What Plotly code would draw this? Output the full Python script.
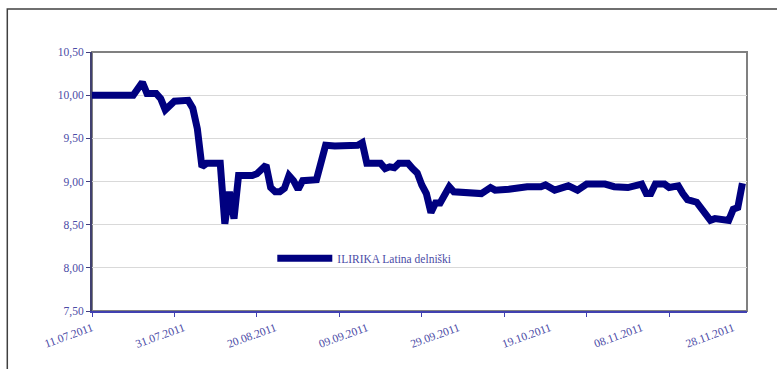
import plotly.graph_objects as go

# Daily closing values of the fund share, 11.07.2011 - 30.11.2011
dates = [
    "2011-07-11", "2011-07-20", "2011-07-22", "2011-07-23", "2011-07-25",
    "2011-07-26", "2011-07-27", "2011-07-29", "2011-08-01", "2011-08-02",
    "2011-08-03", "2011-08-04", "2011-08-05", "2011-08-08", "2011-08-09",
    "2011-08-10", "2011-08-11", "2011-08-12", "2011-08-15", "2011-08-16",
    "2011-08-18", "2011-08-19", "2011-08-20", "2011-08-21", "2011-08-22",
    "2011-08-23", "2011-08-24", "2011-08-25", "2011-08-26", "2011-08-29",
    "2011-08-30", "2011-08-31", "2011-09-02", "2011-09-07", "2011-09-08",
    "2011-09-09", "2011-09-12", "2011-09-13", "2011-09-14",
    "2011-09-15", "2011-09-16", "2011-09-18", "2011-09-19", "2011-09-20",
    "2011-09-21", "2011-09-22", "2011-09-23", "2011-09-24", "2011-09-25",
    "2011-09-27", "2011-09-28", "2011-09-30", "2011-10-04", "2011-10-06",
    "2011-10-07", "2011-10-10", "2011-10-14", "2011-10-17", "2011-10-18",
    "2011-10-20", "2011-10-22", "2011-10-23", "2011-10-25", "2011-10-27",
    "2011-10-31", "2011-11-02", "2011-11-05", "2011-11-08", "2011-11-09",
    "2011-11-10", "2011-11-11", "2011-11-13", "2011-11-14", "2011-11-15",
    "2011-11-16", "2011-11-17", "2011-11-18", "2011-11-20", "2011-11-21",
    "2011-11-23", "2011-11-24", "2011-11-26", "2011-11-27", "2011-11-28",
    "2011-11-29", "2011-11-30",
]
values = [
    10.00, 10.00, 10.15, 10.02, 10.02,
    9.96, 9.83, 9.93, 9.94, 9.85,
    9.61, 9.17, 9.21, 9.21, 8.51,
    8.88, 8.57, 9.07, 9.07, 9.09,
    9.19, 8.93, 8.88, 8.88, 8.92,
    9.07, 9.01, 8.91, 9.01, 9.02,
    9.22, 9.42, 9.41, 9.42, 9.45,
    9.21, 9.21, 9.15, 9.17,
    9.16, 9.21, 9.21, 9.15, 9.10,
    8.96, 8.86, 8.64, 8.75, 8.75,
    8.94, 8.88, 8.88, 8.86, 8.93,
    8.90, 8.91, 8.94, 8.94, 8.96,
    8.90, 8.93, 8.95, 8.90, 8.97,
    8.97, 8.94, 8.93, 8.97, 8.86,
    8.86, 8.97, 8.97, 8.93, 8.95,
    8.95, 8.86, 8.79, 8.76, 8.68,
    8.55, 8.57, 8.55, 8.55, 8.68,
    8.70, 8.98,
]
series_name = "ILIRIKA Latina delniški"

# date labels every 20 days
x_label_dates = ["2011-07-11", "2011-07-31", "2011-08-20", "2011-09-09",
                 "2011-09-29", "2011-10-19", "2011-11-08", "2011-11-28"]
x_tick_labels = ["11.07.2011", "31.07.2011", "20.08.2011", "09.09.2011",
                 "29.09.2011", "19.10.2011", "08.11.2011", "28.11.2011"]
# tick marks every 18 days
x_mark_dates = ["2011-07-11", "2011-07-29", "2011-08-16", "2011-09-03",
                "2011-09-21", "2011-10-09", "2011-10-27", "2011-11-14"]

TEXT = "#4b4ba6"
FONT = "Liberation Serif"

W, H = 777, 369
L, R, T, B = 91.7, 746.7, 52, 310.7
pw, ph = R - L, B - T


def px(xp):
    return (xp - L) / pw


def py(yp):
    return (B - yp) / ph


fig = go.Figure()
fig.add_trace(go.Scatter(
    x=dates, y=values, mode="lines", name=series_name,
    line=dict(color="#000080", width=7),
    showlegend=True,
))

fig.update_layout(
    width=W, height=H,
    margin=dict(l=L, r=W - R, t=T, b=H - B, pad=0),
    paper_bgcolor="white", plot_bgcolor="white",
    separators=",.",
    font=dict(family=FONT, color=TEXT, size=11),
    showlegend=True,
    legend=dict(
        x=px(272), y=py(258), xanchor="left", yanchor="middle",
        bgcolor="rgba(0,0,0,0)", itemwidth=55,
        font=dict(family=FONT, size=11.5, color=TEXT),
    ),
    xaxis=dict(
        type="date",
        range=["2011-07-11", "2011-12-01"],
        tickmode="array", tickvals=x_label_dates, ticktext=x_tick_labels,
        tickangle=-20,
        ticks="outside", ticklen=4, tickcolor="rgba(0,0,0,0)",
        minor=dict(tickmode="array", tickvals=x_mark_dates,
                   ticks="outside", ticklen=4, tickcolor="#4040b0",
                   showgrid=False),
        showgrid=False, zeroline=False,
        showline=True, linecolor="#4040b0", linewidth=2,
        tickfont=dict(family=FONT, size=11.5, color=TEXT),
    ),
    yaxis=dict(
        range=[7.5, 10.5], dtick=0.5, tick0=7.5,
        tickformat=".2f",
        ticks="outside", ticklen=4, tickcolor="#404080",
        showgrid=True, gridcolor="#d9d9d9", gridwidth=1,
        zeroline=False,
        showline=True, linecolor="#404070", linewidth=2,
        tickfont=dict(family=FONT, size=11.5, color=TEXT),
    ),
    shapes=[
        # plot-area frame (top and right edges)
        dict(type="rect", xref="paper", yref="paper", x0=0, y0=0, x1=1, y1=1,
             line=dict(color="#808080", width=2), layer="below"),
        # outer chart border
        dict(type="rect", xref="paper", yref="paper",
             x0=px(7), y0=py(420), x1=px(900), y1=py(9),
             line=dict(color="#404040", width=1.5), layer="above"),
    ],
)

fig.write_html("out.html")
